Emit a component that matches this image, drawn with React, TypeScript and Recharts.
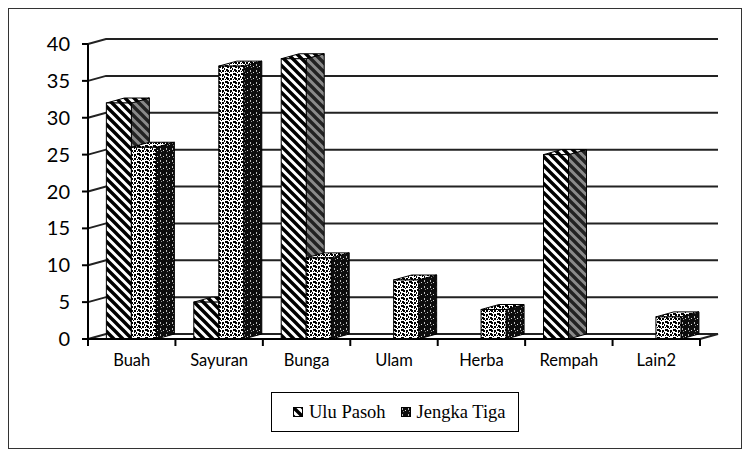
import React from "react"
import { BarChart, Bar, XAxis, YAxis, CartesianGrid } from "recharts"

const categories = ["Buah", "Sayuran", "Bunga", "Ulam", "Herba", "Rempah", "Lain2"]
const uluPasoh = [32, 5, 38, 0, 0, 25, 0]
const jengkaTiga = [26, 37, 11, 8, 4, 0, 3]
const yTicks = [0, 5, 10, 15, 20, 25, 30, 35, 40]

const data = categories.map((name, i) => ({ name, ulu: uluPasoh[i], jengka: jengkaTiga[i] }))

const W = 732
const H = 439
const M = { top: 35, right: 41, left: 0, bottom: 79 }
const Y_W = 79
const BAND = (W - Y_W - M.right) / categories.length
// 3D depth offset
const DX = 18
const DY = -5

const sans = "Lato, 'Noto Sans', sans-serif"

const make3d = (front: string, side: string, top: string) => (props: any) => {
  const { x, y, width, height } = props
  if (x == null || y == null) return null
  const h = height || 0
  if (h <= 0.5) return null
  const r = x + width
  return (
    <g>
      <polygon
        points={`${r},${y} ${r + DX},${y + DY} ${r + DX},${y + h + DY} ${r},${y + h}`}
        fill={side}
        stroke="#000"
        strokeWidth={1}
      />
      <polygon
        points={`${x},${y} ${x + DX},${y + DY} ${r + DX},${y + DY} ${r},${y}`}
        fill={top}
        stroke="#000"
        strokeWidth={1}
      />
      <rect x={x} y={y} width={width} height={h} fill={front} stroke="#000" strokeWidth={1} />
    </g>
  )
}

const gridLine = (props: any) => {
  const { x1, y1, x2, index } = props
  const isFloor = Math.abs(y1 - (H - M.bottom - 30)) < 1
  const d = `M${x1},${y1} L${x1 + DX},${y1 + DY} L${x2 + DX},${y1 + DY}` + (isFloor ? ` L${x2},${y1}` : "")
  return <path key={`g-${index}`} d={d} fill="none" stroke="#222" strokeWidth={2} />
}

const XTick = (props: any) => {
  const { x, y, payload, index } = props
  return (
    <g>
      <line x1={x - BAND / 2} y1={y} x2={x - BAND / 2} y2={y + 7} stroke="#000" strokeWidth={2} />
      {index === categories.length - 1 && (
        <line x1={x + BAND / 2} y1={y} x2={x + BAND / 2} y2={y + 7} stroke="#000" strokeWidth={2} />
      )}
      <text x={x} y={y + 27} textAnchor="middle" fontFamily={sans} fontSize={16.5} fill="#000">
        {payload.value}
      </text>
    </g>
  )
}

const Patterns = () => (
  <defs>
    <pattern id="uluFront" patternUnits="userSpaceOnUse" width={9} height={9}>
      <rect width={9} height={9} fill="#fff" />
      <path d="M-3,6 L3,12 M0,0 L9,9 M6,-3 L12,3" stroke="#000" strokeWidth={3.4} />
    </pattern>
    <pattern id="uluSide" patternUnits="userSpaceOnUse" width={9} height={9}>
      <rect width={9} height={9} fill="#8a8a8a" />
      <path d="M-3,6 L3,12 M0,0 L9,9 M6,-3 L12,3" stroke="#222" strokeWidth={3.4} />
    </pattern>
    <pattern id="jengkaFront" patternUnits="userSpaceOnUse" width={8} height={8}>
      <rect width={8} height={8} fill="#fff" />
      <path d="M0,0 h3 v1 h1 v2 h-2 v-1 h-2 z" fill="#000" />
      <path d="M5,1 h2 v2 h-1 v1 h-1 z" fill="#000" />
      <path d="M1,4 h2 v1 h1 v2 h-2 v-1 h-1 z" fill="#000" />
      <path d="M5,5 h2 v2 h-2 z" fill="#000" />
      <rect x={7} y={3} width={1} height={2} fill="#000" />
      <rect x={4} y={7} width={1} height={1} fill="#000" />
      <rect x={0} y={6} width={1} height={1} fill="#000" />
    </pattern>
    <pattern id="jengkaSide" patternUnits="userSpaceOnUse" width={6} height={6}>
      <rect width={6} height={6} fill="#0d0d0d" />
      <rect x={1} y={1} width={1} height={2} fill="#bbb" />
      <rect x={4} y={3} width={1} height={1} fill="#ddd" />
      <rect x={2} y={4} width={1} height={1} fill="#888" />
    </pattern>
  </defs>
)

const LegendIcon = ({ fill }: { fill: string }) => (
  <svg width={10} height={10} style={{ verticalAlign: "-1px", marginRight: 6 }}>
    <rect x={0.5} y={0.5} width={9} height={9} fill={fill} stroke="#000" />
  </svg>
)

export default function App() {
  return (
    <div style={{ position: "relative", width: W, height: H, border: "1px solid #333" }}>
      <BarChart
        width={W}
        height={H}
        data={data}
        margin={M}
        barCategoryGap="21%"
        barGap={0}
      >
        <Patterns />
        <CartesianGrid vertical={false} horizontal={gridLine} />
        <XAxis
          dataKey="name"
          height={30}
          axisLine={{ stroke: "#000", strokeWidth: 2 }}
          tickLine={false}
          tickSize={0}
          tickMargin={0}
          tick={<XTick />}
          interval={0}
        />
        <YAxis
          width={Y_W}
          domain={[0, 40]}
          ticks={yTicks}
          interval={0}
          axisLine={{ stroke: "#000", strokeWidth: 2 }}
          tickLine={{ stroke: "#000", strokeWidth: 2 }}
          tickSize={6}
          tickMargin={12}
          tick={{ fontFamily: sans, fontSize: 20, fill: "#000" }}
        />
        <Bar dataKey="ulu" name="Ulu Pasoh" isAnimationActive={false} shape={make3d("url(#uluFront)", "url(#uluSide)", "url(#uluFront)")} />
        <Bar dataKey="jengka" name="Jengka Tiga" isAnimationActive={false} shape={make3d("url(#jengkaFront)", "url(#jengkaSide)", "url(#jengkaFront)")} />
      </BarChart>
      <div
        style={{
          position: "absolute",
          left: 262,
          top: 383,
          width: 246 - 21,
          height: 38,
          paddingLeft: 21,
          border: "1px solid #000",
          fontFamily: "'Liberation Serif', 'Times New Roman', serif",
          fontSize: 18.5,
          display: "flex",
          alignItems: "center",
          boxSizing: "content-box",
        }}
      >
        <LegendIcon fill="url(#uluFront)" />
        <span style={{ marginRight: 15 }}>Ulu Pasoh</span>
        <LegendIcon fill="url(#jengkaSide)" />
        <span>Jengka Tiga</span>
      </div>
    </div>
  )
}
